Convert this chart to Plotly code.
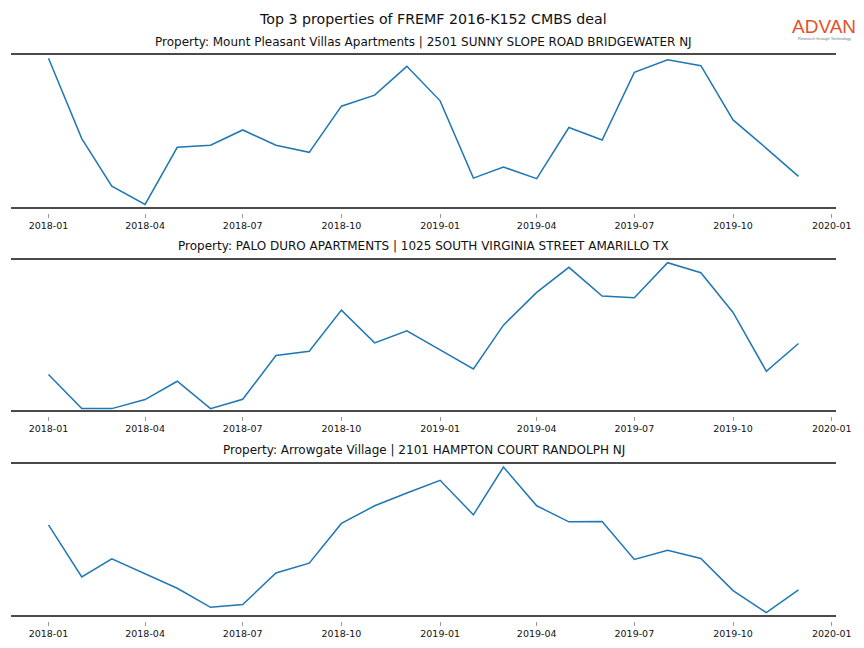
import pandas as pd
import plotly.graph_objects as go
from plotly.subplots import make_subplots

months = pd.date_range("2018-01-01", periods=24, freq="MS")

titles = [
    "Property: Mount Pleasant Villas Apartments | 2501 SUNNY SLOPE ROAD BRIDGEWATER NJ",
    "Property: PALO DURO APARTMENTS | 1025 SOUTH VIRGINIA STREET AMARILLO TX",
    "Property: Arrowgate Village | 2101 HAMPTON COURT RANDOLPH NJ",
]

mount_pleasant = [149.2, 69.2, 21.8, 3.5, 60.5, 62.5, 77.8, 62.5, 55.5, 101.5, 112.5, 141.2,
                  106.8, 29.8, 40.8, 29.2, 80.2, 67.8, 135.2, 147.8, 141.8, 87.8, 59.5, 31.5]
palo_duro = [36.4, 2.4, 2.4, 11.4, 29.7, 2.4, 11.7, 55.4, 59.7, 100.7, 68.0, 80.0,
             61.0, 42.0, 85.7, 118.4, 143.4, 114.7, 113.0, 148.0, 138.0, 98.4, 39.7, 67.4]
arrowgate = [91.0, 39.0, 57.0, 42.4, 27.7, 8.7, 11.4, 43.0, 52.7, 92.4, 110.0, 122.8,
             135.4, 101.0, 148.7, 110.0, 94.0, 94.4, 56.4, 65.7, 57.4, 25.4, 3.4, 26.0]

series = [mount_pleasant, palo_duro, arrowgate]
y_tops = [153.5, 151.7, 152.7]

# the page body adds an 8px margin, so the figure is laid out in shifted pixel coords
OFF = 8
W, H = 864 - OFF, 648 - OFF


def fx(px):
    return (px - OFF) / W


def fy(py):
    return 1 - (py - OFF) / H


# pixel boxes of the axes in the final screenshot (top, bottom)
boxes = [(54, 208), (259, 411), (463, 616)]
title_px = [42, 246, 450]
x0_px, x1_px = 11, 836

fig = make_subplots(rows=3, cols=1)

x_range = [pd.Timestamp("2018-01-01") - pd.Timedelta(days=34.95),
           pd.Timestamp("2019-12-01") + pd.Timedelta(days=34.95)]

for i, (vals, top) in enumerate(zip(series, y_tops)):
    r = i + 1
    fig.add_trace(go.Scatter(x=months, y=vals, mode="lines",
                             line=dict(color="#1f77b4", width=1.5),
                             showlegend=False, hoverinfo="skip"), row=r, col=1)
    t, b = boxes[i]
    xa = "xaxis" if i == 0 else f"xaxis{r}"
    ya = "yaxis" if i == 0 else f"yaxis{r}"
    fig.layout[ya].update(domain=[fy(b), fy(t)], range=[0, top], automargin=False,
                          visible=False, showgrid=False, zeroline=False, fixedrange=True)
    fig.layout[xa].update(domain=[fx(x0_px), fx(x1_px)], range=x_range, automargin=False,
                          anchor="free", position=fy(b + 5),
                          showline=False, showgrid=False, zeroline=False,
                          tickformat="%Y-%m", dtick="M3", tick0="2018-01-01",
                          ticks="outside", ticklen=4, tickwidth=1, tickcolor="#9a9a9a",
                          tickfont=dict(family="DejaVu Sans", size=9.5, color="#111"))
    xref = "x domain" if i == 0 else f"x{r} domain"
    yref = "y domain" if i == 0 else f"y{r} domain"
    for yy in (0, 1):
        fig.add_shape(type="line", xref=xref, yref=yref, x0=0, x1=1, y0=yy, y1=yy,
                      line=dict(color="#4a4a4a", width=2))
    fig.add_annotation(text=titles[i], xref="paper", yref="paper",
                       x=fx((x0_px + x1_px) / 2), y=fy(title_px[i]),
                       xanchor="center", yanchor="middle", showarrow=False,
                       font=dict(family="DejaVu Sans", size=12, color="#111"))

fig.add_annotation(text="Top 3 properties of FREMF 2016-K152 CMBS deal",
                   xref="paper", yref="paper", x=fx(433), y=fy(19),
                   xanchor="center", yanchor="middle", showarrow=False,
                   font=dict(family="DejaVu Sans", size=14.2, color="#111"))

# logo
fig.add_annotation(text="ADVAN", xref="paper", yref="paper", x=fx(824), y=fy(27),
                   xanchor="center", yanchor="middle", showarrow=False,
                   font=dict(family="Liberation Sans", size=19, color="#e2522a"))
fig.add_annotation(text="Research through Technology", xref="paper", yref="paper",
                   x=fx(824), y=fy(38), xanchor="center", yanchor="middle",
                   showarrow=False, font=dict(family="Liberation Sans", size=4, color="#777"))

fig.update_layout(width=W, height=H, margin=dict(l=0, r=0, t=0, b=0, autoexpand=False),
                  paper_bgcolor="white", plot_bgcolor="white")

fig.write_html("out.html")
